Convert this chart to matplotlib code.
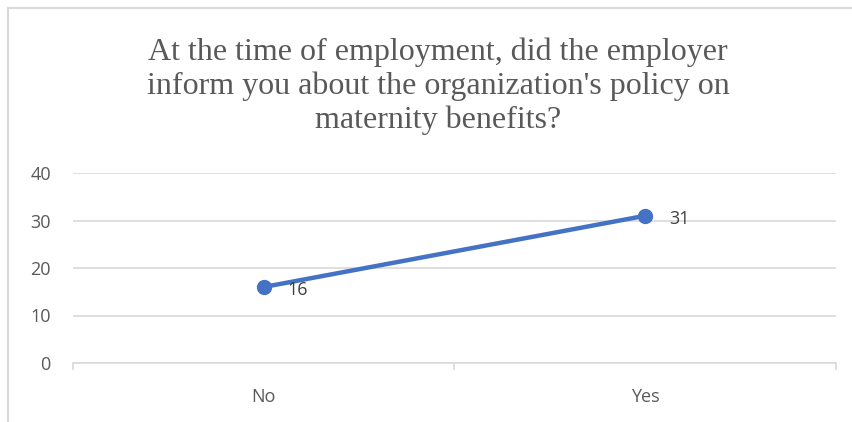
import matplotlib
matplotlib.use("Agg")
import matplotlib.pyplot as plt
from matplotlib.patches import Rectangle

categories = ["No", "Yes"]
values = [16, 31]
y_ticks = [0, 10, 20, 30, 40]
title = ("At the time of employment, did the employer\n"
         "inform you about the organization's policy on\n"
         "maternity benefits?")

W, H = 853, 422
fig = plt.figure(figsize=(W / 100, H / 100), dpi=100)

# chart border (cropped on right and bottom)
fig.patches.append(Rectangle((8 / W, -0.1), 1.2, (H - 8) / H + 0.1,
                             transform=fig.transFigure, fill=False,
                             edgecolor="#d9d9d9", linewidth=1.5))

ax = fig.add_axes([73 / W, (H - 363) / H, (836 - 73) / W, (363 - 173) / H])

x = [i + 0.5 for i in range(len(categories))]
ax.plot(x, values, color="#4472C4", linewidth=3.2, marker="o", markersize=10,
        solid_capstyle="round", zorder=3)
for xi, v in zip(x, values):
    ax.annotate(str(v), (xi, v), xytext=(17, -2), textcoords="offset points",
                ha="left", va="center", fontsize=13, color="#404040",
                family="Open Sans")

ax.set_xlim(0, len(categories))
ax.set_ylim(0, 40)
ax.set_yticks(y_ticks)
ax.grid(axis="y", color="#d9d9d9", linewidth=1.2)
ax.set_axisbelow(True)
for s in ["top", "right", "left"]:
    ax.spines[s].set_visible(False)
ax.spines["bottom"].set_color("#d9d9d9")
ax.spines["bottom"].set_linewidth(1.2)

ax.set_xticks(range(len(categories) + 1))
ax.set_xticklabels([])
ax.set_xticks(x, minor=True)
ax.set_xticklabels(categories, minor=True)
ax.tick_params(axis="x", which="major", length=5, color="#d9d9d9", width=1.2)
ax.tick_params(axis="x", which="minor", length=0, pad=18)
ax.tick_params(axis="y", length=0, pad=16)
for lab in ax.get_yticklabels() + ax.get_xticklabels(minor=True):
    lab.set_fontsize(13)
    lab.set_color("#595959")
    lab.set_family("Open Sans")

fig.text(438 / W, (H - 86) / H, title, ha="center", va="center",
         fontsize=23, color="#595959", family="Liberation Serif",
         linespacing=1.2)

fig.savefig("out.png", dpi=100)
